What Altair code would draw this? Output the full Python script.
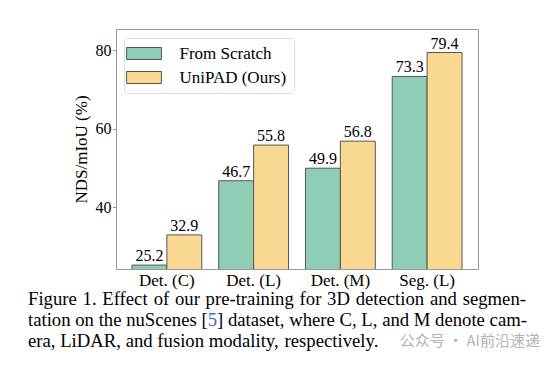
import altair as alt
import pandas as pd

categories = ["Det. (C)", "Det. (L)", "Det. (M)", "Seg. (L)"]
methods = ["From Scratch", "UniPAD (Ours)"]
scratch = [25.2, 46.7, 49.9, 73.3]
unipad = [32.9, 55.8, 56.8, 79.4]
y_ticks = [40, 60, 80]
colors = ["#8fceb5", "#f9d991"]

caption_line1 = "Figure 1. Effect of our pre-training for 3D detection and segmen-"
caption_line2 = "tation on the nuScenes [5] dataset, where C, L, and M denote cam-"
caption_line3 = "era, LiDAR, and fusion modality, respectively."
watermark = "公众号 · AI前沿速递"

rows = []
for c, a, b in zip(categories, scratch, unipad):
    rows.append({"cat": c, "method": methods[0], "value": a, "label": f"{a:.1f}"})
    rows.append({"cat": c, "method": methods[1], "value": b, "label": f"{b:.1f}"})
df = pd.DataFrame(rows)

SERIF = "Liberation Serif"
W, H = 362, 240
EDGE = "#555555"
OX, OY = 116, 29  # plot origin on the page

x = alt.X(
    "cat:N", sort=categories, title=None,
    scale=alt.Scale(paddingInner=0.195, paddingOuter=0.184),
    axis=alt.Axis(labelAngle=0, ticks=False, domain=False, labelFont=SERIF,
                  labelFontSize=17, labelColor="black", labelPadding=3),
)
xo = alt.XOffset("method:N", sort=methods, scale=alt.Scale(paddingInner=0, paddingOuter=0))
y = alt.Y(
    "value:Q",
    scale=alt.Scale(domain=[24.2, 85.4], nice=False, zero=False),
    axis=alt.Axis(values=y_ticks, title="NDS/mIoU (%)", grid=False, domain=False,
                  tickSize=3.5, tickColor="#999999", labelPadding=1.5,
                  labelFont=SERIF, labelFontSize=16, labelColor="black",
                  titleFont=SERIF, titleFontSize=17, titleFontWeight="normal",
                  titleColor="black", titlePadding=5),
)
color = alt.Color(
    "method:N", sort=methods,
    scale=alt.Scale(domain=methods, range=colors),
    legend=alt.Legend(
        title=None, orient="none", legendX=8, legendY=9,
        symbolType="M-2.9,-1L2.9,-1L2.9,1L-2.9,1Z", symbolSize=144,
        symbolStrokeColor=EDGE, symbolStrokeWidth=1, symbolOpacity=1,
        symbolOffset=4.5, labelOffset=27,
        labelFont=SERIF, labelFontSize=17, labelColor="black",
        rowPadding=6, padding=7, fillColor="white", strokeColor="#dddddd",
        cornerRadius=3,
    ),
)

base = alt.Chart(df)
bars = base.mark_bar(stroke=EDGE, strokeWidth=1, clip=True).encode(x=x, xOffset=xo, y=y, color=color)
labels = base.mark_text(font=SERIF, fontSize=16, baseline="bottom", dy=-1, color="black").encode(
    x=x, xOffset=xo, y=y, text="label:N"
)

# Times-Roman advance widths (1/1000 em), used to justify the caption lines
TW = {" ": 250, "(": 333, ")": 333, ",": 250, "-": 333, ".": 250, "[": 333, "]": 333}
TW.update({d: 500 for d in "0123456789"})
TW.update(dict(zip("ABCDEFGHIJKLMNOPQRSTUVWXYZ",
                   [722, 667, 667, 722, 611, 556, 722, 722, 333, 389, 722, 611, 889,
                    722, 722, 556, 722, 667, 556, 611, 722, 722, 944, 722, 722, 611])))
TW.update(dict(zip("abcdefghijklmnopqrstuvwxyz",
                   [444, 500, 444, 500, 444, 333, 500, 500, 278, 278, 500, 278, 778,
                    500, 500, 500, 500, 333, 389, 278, 500, 500, 722, 500, 500, 444])))
FS = 18.7


def tw(s):
    return sum(TW.get(ch, 500) for ch in s) * FS / 1000.0


def cap(text, px, py, align="left", col="black", font=SERIF, size=FS):
    return alt.Chart(pd.DataFrame({"t": [text]})).mark_text(
        font=font, fontSize=size, align=align, baseline="alphabetic", color=col
    ).encode(x=alt.value(px - OX), y=alt.value(py - OY), text="t:N")


def line_layers(line, left, right, base_y, justify=True):
    words = line.split(" ")
    widths = [tw(w) for w in words]
    if justify and len(words) > 1:
        gap = (right - left - sum(widths)) / (len(words) - 1)
    else:
        gap = tw(" ")
    out = []
    xpos = left
    for w, wd in zip(words, widths):
        if w == "[5]":
            out.append(cap("[", xpos, base_y))
            out.append(cap("5", xpos + tw("["), base_y, col="#3b6fb6"))
            out.append(cap("]", xpos + tw("[5"), base_y))
        else:
            out.append(cap(w, xpos, base_y))
        xpos += wd + gap
    return out


B1, B2, B3 = 305, 326, 347
captions = (
    line_layers(caption_line1, 28, 526, B1)
    + line_layers(caption_line2, 28, 527, B2)
    + line_layers(caption_line3, 28, 527, B3, justify=False)
    + [cap(watermark, 540, B3 - 1, align="right", col="#b3b3b3", font="Noto Sans CJK SC", size=15)]
)

chart = alt.layer(bars, labels, *captions).properties(
    width=W, height=H,
    padding={"left": OX - 8, "top": OY - 8, "right": 544 - (OX - 8) - W, "bottom": 356 - (OY - 8) - H},
    autosize="none",
).configure_view(stroke="#999999", strokeWidth=1)

chart.save("out.html", embed_options={"renderer": "svg", "actions": False})
